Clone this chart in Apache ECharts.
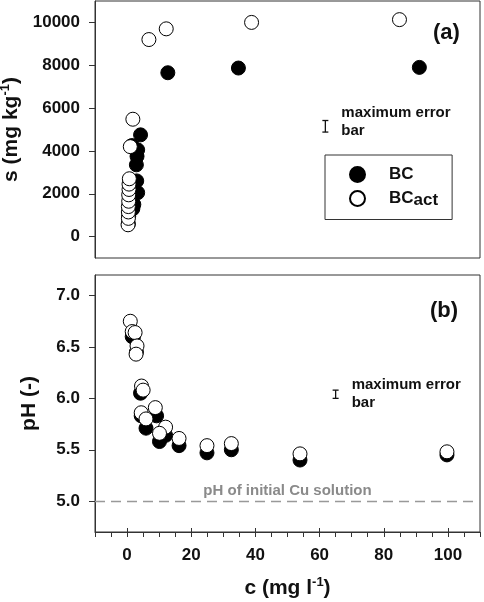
<!DOCTYPE html>
<html>
<head>
<meta charset="utf-8">
<script src="https://cdn.jsdelivr.net/npm/echarts@6/dist/echarts.min.js"></script>
<style>html,body{margin:0;padding:0;background:#fff}#c{width:484px;height:602px}</style>
</head>
<body>
<div id="c"></div>
<script>
// ---- data ----
// panel (a): sorbed amount s vs concentration c
const bcC_a   = [0.4, 0.5, 1.8, 2.1, 3.3, 3.0, 2.9, 3.1, 3.3, 1.5, 4.2, 12.7, 34.7, 91.1];
const bcS_a   = [600, 950, 1300, 1500, 2050, 2600, 3350, 3750, 4050, 4250, 4750, 7650, 7870, 7900];
const actC_a  = [0.3, 0.4, 0.4, 0.4, 0.5, 0.5, 0.6, 0.6, 0.7, 1.0, 1.8, 6.8, 12.2, 38.8, 84.9];
const actS_a  = [550, 850, 1150, 1400, 1650, 1950, 2200, 2450, 2700, 4200, 5480, 9200, 9700, 10000, 10130];
// panel (b): pH vs concentration c
const bcC_b   = [1.6, 2.0, 2.9, 4.2, 4.6, 4.4, 5.9, 9.2, 10.1, 12.0, 16.2, 24.9, 32.5, 53.9, 99.7];
const bcPH_b  = [6.60, 6.60, 6.45, 6.05, 6.07, 5.83, 5.71, 5.83, 5.58, 5.64, 5.54, 5.47, 5.50, 5.40, 5.45];
const actC_b  = [1.0, 1.6, 2.5, 3.1, 2.8, 4.5, 5.0, 4.4, 5.9, 8.8, 12.0, 10.1, 16.2, 24.9, 32.5, 53.9, 99.7];
const actPH_b = [6.75, 6.65, 6.64, 6.51, 6.43, 6.12, 6.08, 5.86, 5.80, 5.91, 5.72, 5.66, 5.61, 5.54, 5.56, 5.46, 5.48];
// maximum error bars: [c, low, high]
const errBar_a = [[61.8, 4880, 5420]];
const errBar_b = [[65.0, 6.00, 6.08]];
// initial solution pH
const initialPH = 5.0;
// ticks
const xTickLabels = [0, 20, 40, 60, 80, 100];
const xMinorTicks = [-10,-5,0,5,10,15,20,25,30,35,40,45,50,55,60,65,70,75,80,85,90,95,100,105,110];
const sTicks  = [0, 2000, 4000, 6000, 8000, 10000];
const phTicks = [5.0, 5.5, 6.0, 6.5, 7.0];
const seriesNames = ['BC', 'BCact'];

const zip = (a, b) => a.map((v, i) => [v, b[i]]);
const FONT = '"Liberation Sans", Arial, sans-serif';
const INK = '#111';
const LINE = '#333';

function errRenderer(textDy) {
  return function (params, api) {
    const x = api.value(0), lo = api.value(1), hi = api.value(2);
    const p1 = api.coord([x, lo]), p2 = api.coord([x, hi]);
    const w = 3;
    const st = { stroke: INK, lineWidth: 1.3 };
    return {
      type: 'group',
      children: [
        { type: 'line', shape: { x1: p1[0], y1: p1[1], x2: p2[0], y2: p2[1] }, style: st },
        { type: 'line', shape: { x1: p1[0] - w, y1: p1[1], x2: p1[0] + w, y2: p1[1] }, style: st },
        { type: 'line', shape: { x1: p2[0] - w, y1: p2[1], x2: p2[0] + w, y2: p2[1] }, style: st },
        { type: 'text', x: p1[0] + 16, y: (p1[1] + p2[1]) / 2 + textDy,
          style: { text: 'maximum error\nbar', font: 'bold 15px ' + FONT, fill: INK,
                   verticalAlign: 'middle', align: 'left', lineHeight: 18 } }
      ]
    };
  };
}

const grids = [
  { left: 95, top: 1, width: 385, height: 257 },
  { left: 95, top: 275, width: 385, height: 257 }
].map(g => Object.assign(g, { show: true, borderColor: LINE, borderWidth: 1, backgroundColor: 'transparent', containLabel: false, outerBoundsMode: 'none' }));

const tickLabelStyle = { color: INK, fontFamily: FONT, fontWeight: 'bold', fontSize: 17 };
const nameStyle = { color: INK, fontFamily: FONT, fontWeight: 'bold', fontSize: 21,
  rich: {
    m: { fontFamily: FONT, fontWeight: 'bold', fontSize: 21, lineHeight: 24, color: INK },
    sup: { fontFamily: FONT, fontWeight: 'bold', fontSize: 13, lineHeight: 12, verticalAlign: 'top', color: INK }
  } };

const option = {
  animation: false,
  backgroundColor: '#fff',
  grid: grids,
  title: [
    { text: '(a)', left: 433, top: 22, padding: 0, textStyle: { fontFamily: FONT, fontWeight: 'bold', fontSize: 22, color: INK } },
    { text: '(b)', left: 430, top: 300, padding: 0, textStyle: { fontFamily: FONT, fontWeight: 'bold', fontSize: 22, color: INK } }
  ],
  legend: {
    data: seriesNames,
    orient: 'vertical',
    left: 325, top: 155,
    padding: [11, 14, 11, 24],
    itemGap: 7,
    itemWidth: 15, itemHeight: 15,
    borderColor: LINE, borderWidth: 1,
    backgroundColor: '#fff',
    icon: 'circle',
    formatter: n => n === 'BCact' ? '{b|BC}{s|act}' : '{b|BC}',
    textStyle: {
      padding: [0, 0, 0, 19],
      rich: {
        b: { fontFamily: FONT, fontWeight: 'bold', fontSize: 17, lineHeight: 20, color: INK },
        s: { fontFamily: FONT, fontWeight: 'bold', fontSize: 17, lineHeight: 14, verticalAlign: 'bottom', color: INK }
      }
    }
  },
  xAxis: [
    { gridIndex: 0, type: 'value', min: -10, max: 110, interval: 5,
      axisLine: { show: false, onZero: false }, axisTick: { show: false }, axisLabel: { show: false }, splitLine: { show: false } },
    { gridIndex: 1, type: 'value', min: -10, max: 110, interval: 5,
      axisLine: { show: true, onZero: false, lineStyle: { color: LINE, width: 1 } },
      axisTick: { show: true, length: 5, lineStyle: { color: LINE }, customValues: xMinorTicks },
      axisLabel: Object.assign({ margin: 15, customValues: xTickLabels, formatter: v => String(v) }, tickLabelStyle),
      splitLine: { show: false },
      name: '{m|c (mg l}{sup|-1}{m|)}', nameLocation: 'middle', nameGap: 44, nameTextStyle: nameStyle },
    { gridIndex: 1, type: 'value', min: -10, max: 110, interval: 5, position: 'bottom',
      axisLine: { show: false, onZero: false },
      axisTick: { show: true, inside: true, length: 4, lineStyle: { color: LINE }, customValues: xTickLabels },
      axisLabel: { show: false }, splitLine: { show: false } }
  ],
  yAxis: [
    { gridIndex: 0, type: 'value', min: -1000, max: 11000, interval: 1000,
      axisLine: { show: true, onZero: false, lineStyle: { color: LINE } },
      axisTick: { show: true, length: 6, lineStyle: { color: LINE }, customValues: sTicks },
      axisLabel: Object.assign({ margin: 15, customValues: sTicks, formatter: v => String(v) }, tickLabelStyle),
      splitLine: { show: false },
      name: '{m|s (mg kg}{sup|-1}{m|)}', nameLocation: 'middle', nameGap: 64, nameTextStyle: nameStyle },
    { gridIndex: 1, type: 'value', min: 4.7, max: 7.2, interval: 0.1,
      axisLine: { show: true, onZero: false, lineStyle: { color: LINE } },
      axisTick: { show: true, length: 6, lineStyle: { color: LINE }, customValues: phTicks },
      axisLabel: Object.assign({ margin: 15, customValues: phTicks, formatter: v => v.toFixed(1) }, tickLabelStyle),
      splitLine: { show: false },
      name: 'pH (-)', nameLocation: 'middle', nameGap: 55,
      nameTextStyle: { color: INK, fontFamily: FONT, fontWeight: 'bold', fontSize: 21 } }
  ],
  series: [
    { name: 'BC', type: 'scatter', xAxisIndex: 0, yAxisIndex: 0, data: zip(bcC_a, bcS_a),
      symbol: 'circle', symbolSize: 14, itemStyle: { color: '#000', borderColor: '#000', borderWidth: 1, opacity: 1 } },
    { name: 'BCact', type: 'scatter', xAxisIndex: 0, yAxisIndex: 0, data: zip(actC_a, actS_a),
      symbol: 'circle', symbolSize: 14, itemStyle: { color: '#fff', borderColor: '#000', borderWidth: 1, opacity: 1 } },
    { name: 'BC', type: 'scatter', xAxisIndex: 1, yAxisIndex: 1, data: zip(bcC_b, bcPH_b),
      symbol: 'circle', symbolSize: 14, itemStyle: { color: '#000', borderColor: '#000', borderWidth: 1, opacity: 1 } },
    { name: 'BCact', type: 'scatter', xAxisIndex: 1, yAxisIndex: 1, data: zip(actC_b, actPH_b),
      symbol: 'circle', symbolSize: 14, itemStyle: { color: '#fff', borderColor: '#000', borderWidth: 1, opacity: 1 },
      markLine: {
        silent: true, symbol: ['none', 'none'],
        lineStyle: { color: '#999', type: [10, 6], width: 1.3 },
        label: { show: true, position: 'middle', formatter: 'pH of initial Cu solution', distance: 3,
                 color: '#8a8a8a', fontFamily: FONT, fontWeight: 'bold', fontSize: 15 },
        data: [{ yAxis: initialPH }]
      } },
    { name: 'errA', type: 'custom', xAxisIndex: 0, yAxisIndex: 0, data: errBar_a,
      encode: { x: 0, y: [1, 2] }, renderItem: errRenderer(-4), clip: false, z: 5 },
    { name: 'errB', type: 'custom', xAxisIndex: 1, yAxisIndex: 1, data: errBar_b,
      encode: { x: 0, y: [1, 2] }, renderItem: errRenderer(0), clip: false, z: 5 }
  ]
};

const chart = echarts.init(document.getElementById('c'), null, { renderer: 'canvas' });
chart.setOption(option);
</script>
</body>
</html>
